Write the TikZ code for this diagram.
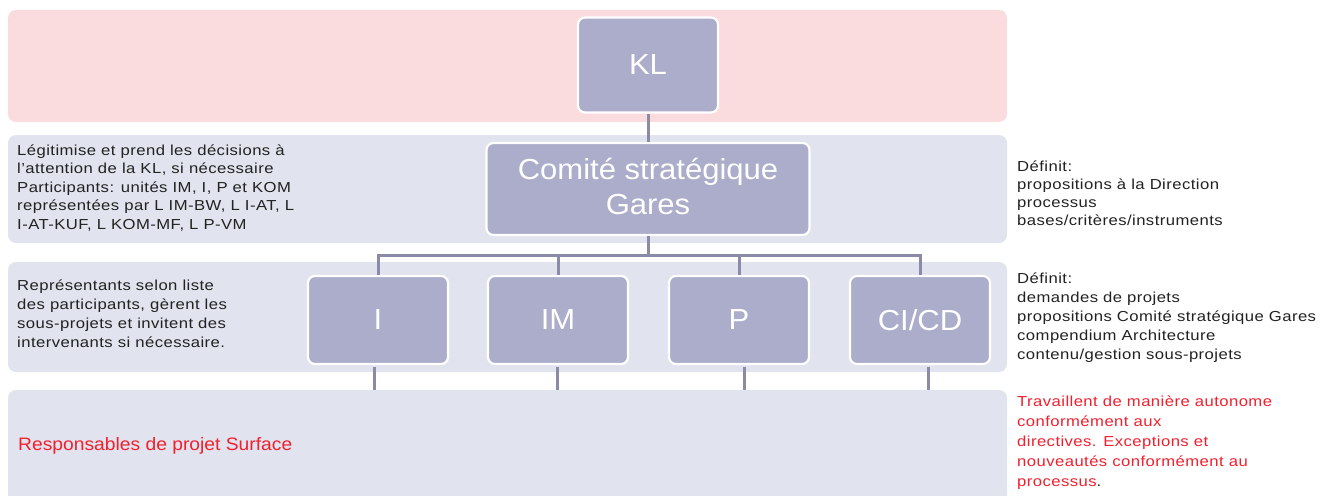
\documentclass[tikz,border=0pt]{standalone}
\usepackage{fontspec}
\setmainfont{Liberation Sans}
\newfontfamily\descfont{Liberation Sans}[FakeStretch=1.15, LetterSpace=3]
\newfontfamily\boxfont{Liberation Sans}[FakeStretch=1.07]
\begin{document}
\begin{tikzpicture}[x=1pt,y=-1pt,
  band/.style={rounded corners=8pt, draw=none},
  orgbox/.style={draw=white, line width=2.2pt, fill=boxfill, rounded corners=7pt,
    text=white, font=\boxfont\fontsize{29}{35}\selectfont, align=center, inner sep=0pt},
  conn/.style={draw=linecol, line width=3pt},
  desc/.style={anchor=base west, align=left, inner sep=0pt, text=textcol},
]
\definecolor{pinkband}{HTML}{FADCDE}
\definecolor{grayband}{HTML}{E1E4EE}
\definecolor{boxfill}{HTML}{ABADCA}
\definecolor{linecol}{HTML}{8B8BA8}
\definecolor{textcol}{HTML}{222222}
\definecolor{redtext}{HTML}{F0202E}
\useasboundingbox (0,0) rectangle (1321,495);
% bands
\fill[band, pinkband] (8,10) rectangle (1007,122);
\fill[band, grayband] (8,135) rectangle (1007,243);
\fill[band, grayband] (8,262) rectangle (1007,372);
\fill[band, grayband] (8,390) rectangle (1007,503);
% boxes
\node[orgbox, minimum width=140pt, minimum height=95pt] (kl) at (648,65) {KL};
\node[orgbox, minimum width=323pt, minimum height=92pt] (cs) at (648,189) {Comité stratégique\\Gares\vphantom{q}};
\node[orgbox, minimum width=140pt, minimum height=88pt] (i) at (378,320) {I};
\node[orgbox, minimum width=140pt, minimum height=88pt] (im) at (558,320) {IM};
\node[orgbox, minimum width=140pt, minimum height=88pt] (p) at (739,320) {P};
\node[orgbox, minimum width=140pt, minimum height=88pt] (cicd) at (920,320) {CI/CD};
% connectors
\coordinate (bar) at (648,255);
\draw[conn] (kl.south) -- (cs.north);
\draw[conn] (cs.south) -- (bar);
\draw[conn] (i.north) |- (bar);
\draw[conn] (cicd.north) |- (bar);
\draw[conn] (im.north) -- (im.north |- bar);
\draw[conn] (p.north) -- (p.north |- bar);
\coordinate (bt) at (0,390);
\coordinate (ib) at ([xshift=-4pt]i.south);
\coordinate (imb) at ([xshift=-1pt]im.south);
\coordinate (pb) at ([xshift=5pt]p.south);
\coordinate (cb) at ([xshift=8pt]cicd.south);
\draw[conn] ([yshift=-2pt]ib) -- (ib |- bt);
\draw[conn] ([yshift=-2pt]imb) -- (imb |- bt);
\draw[conn] ([yshift=-2pt]pb) -- (pb |- bt);
\draw[conn] ([yshift=-2pt]cb) -- (cb |- bt);
% texts (anchored at the baseline of the last line)
\node[desc, font=\descfont\fontsize{14.5}{18.5}\selectfont] (t2l) at (17,229) {Légitimise et prend les décisions à\\l’attention de la KL, si nécessaire\\Participants: unités IM, I, P et KOM\\représentées par L IM-BW, L I-AT, L\\I-AT-KUF, L KOM-MF, L P-VM};
\node[desc, font=\descfont\fontsize{14.5}{18}\selectfont] (t2r) at (1017,225) {Définit:\\propositions à la Direction\\processus\\bases/critères/instruments};
\node[desc, font=\descfont\fontsize{14.5}{18.7}\selectfont] (t3l) at (17,347) {Représentants selon liste\\des participants, gèrent les\\sous-projets et invitent des\\intervenants si nécessaire.};
\node[desc, font=\descfont\fontsize{14.5}{19}\selectfont] (t3r) at (1017,359) {Définit:\\demandes de projets\\propositions Comité stratégique Gares\\compendium Architecture\\contenu/gestion sous-projets};
\node[anchor=base west, inner sep=0pt, text=redtext, font=\boxfont\fontsize{18}{22}\selectfont] (t4l) at (18,450) {Responsables de projet Surface};
\node[desc, text=redtext, font=\descfont\fontsize{14.5}{20}\selectfont] (t4r) at (1017,486) {Travaillent de manière autonome\\conformément aux\\directives. Exceptions et\\nouveautés conformément au\\processus{\color{textcol}.}};
\end{tikzpicture}
\end{document}
